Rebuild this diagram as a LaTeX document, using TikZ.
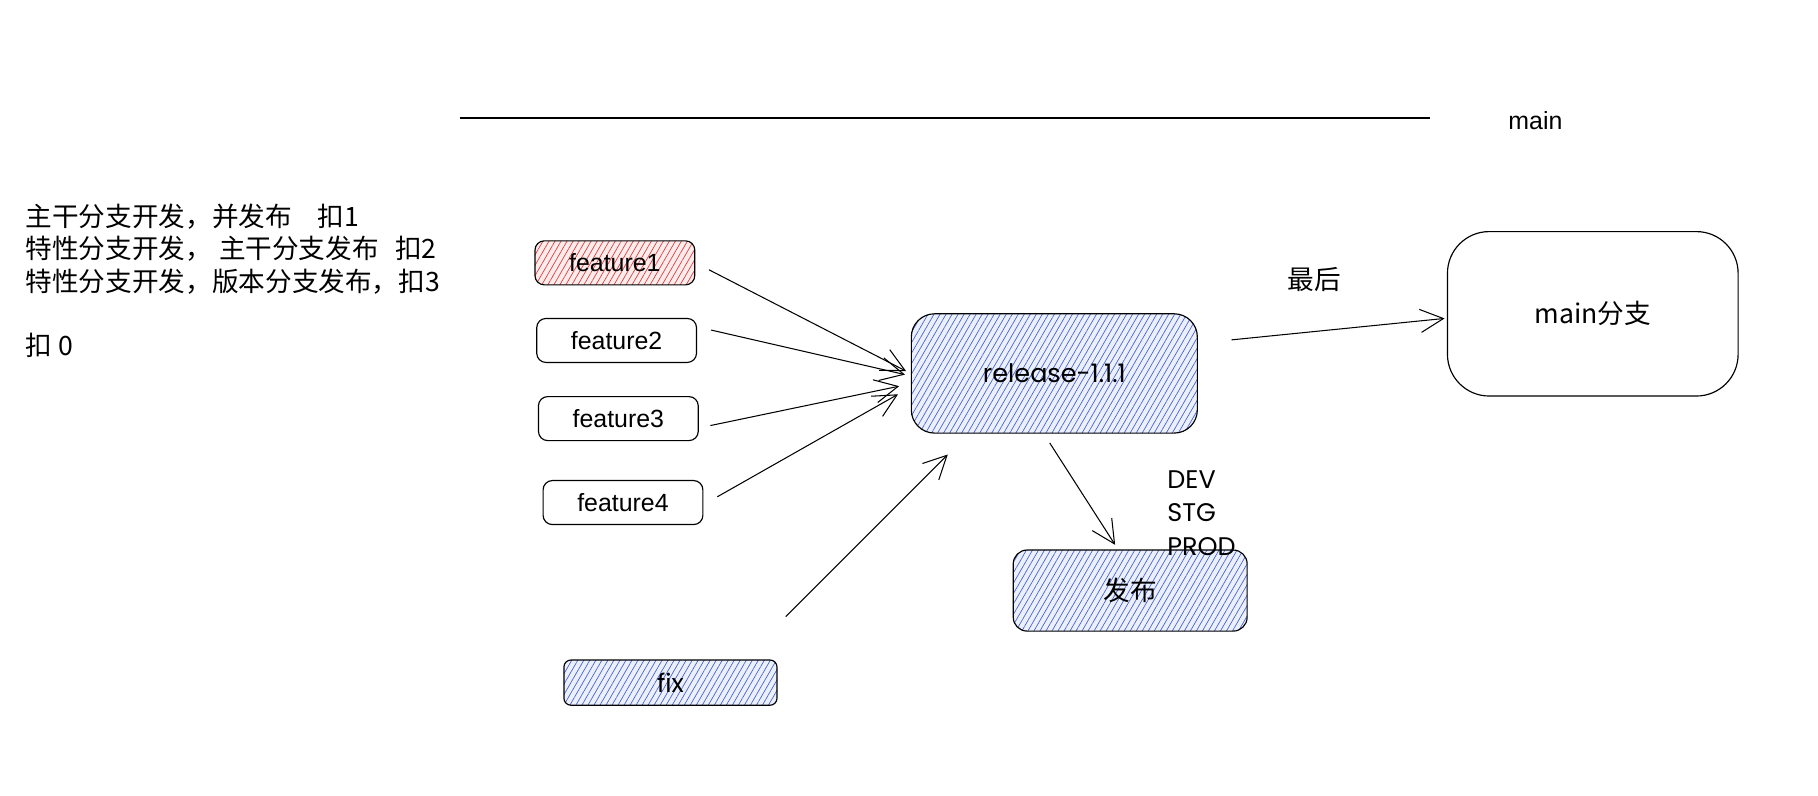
\documentclass[tikz,border=0pt]{standalone}
\usepackage{fontspec}
\setmainfont{Liberation Sans}
\newfontfamily\cjk{Noto Sans CJK SC}
\newfontfamily\hand{Poppins}
\usepackage{tikz}
\usetikzlibrary{arrows.meta, calc, patterns.meta}
\usepackage{xcolor}
\definecolor{hatchblue}{RGB}{70,100,205}
\definecolor{hatchred}{RGB}{224,60,60}
\definecolor{paleblue}{RGB}{236,240,252}
\definecolor{palered}{RGB}{253,236,236}

\begin{document}
\begin{tikzpicture}[x=1pt, y=-1pt,
        every node/.style={font=\fontsize{21.5}{28}\selectfont},
        zh/.style={font=\cjk\fontsize{23}{28}\selectfont},
        sketch/.style={draw, line width=1pt, rounded corners=8pt, inner sep=0pt},
        featbox/.style={sketch, minimum width=138pt, minimum height=38pt},
        bluehatch/.style={preaction={fill=paleblue}, pattern={Lines[angle=60, distance=4.5pt, line width=0.6pt]}, pattern color=hatchblue},
        redhatch/.style={preaction={fill=palered}, pattern={Lines[angle=60, distance=4.5pt, line width=0.6pt]}, pattern color=hatchred},
        handtext/.style={font=\hand\fontsize{22}{29}\selectfont},
        arr/.style={-{Straight Barb[length=20pt, width=20pt]}, line width=0.9pt}]

                \useasboundingbox (0,0) rectangle (1570,687.4);

                % main line
                \coordinate (lineL) at (397,102);
                \coordinate (lineR) at (1235,102);
                \draw[line width=1.5pt] (lineL) -- (lineR);
                \node (mainlabel) at (1326,104) {main};

                % notes
                \node[zh, anchor=north west, align=left, inner sep=0pt] (notes) at (22,176) {主干分支开发，并发布\hspace{22pt}扣1\\特性分支开发，\hspace{6pt}主干分支发布\hspace{14pt}扣2\\特性分支开发，版本分支发布，扣3\\[27pt]扣 0};

                % features
                \node[featbox, redhatch] (feature1) at (531,227) {feature1};
                \node[featbox] (feature2) at (532.5,294) {feature2};
                \node[featbox] (feature3) at (534,361.5) {feature3};
                \node[featbox] (feature4) at (538,434) {feature4};
                \node[sketch, bluehatch, rounded corners=6pt, minimum width=184pt, minimum height=39pt, handtext] (fix) at (579,589.5) {fix};

                % release
                \node[sketch, bluehatch, rounded corners=20pt, minimum width=247pt, minimum height=103pt, handtext] (release) at (910.5,322.5) {release-1.1.1};
                \node[zh, sketch, bluehatch, rounded corners=12pt, minimum width=202pt, minimum height=70pt] (publish) at (976,510) {发布};
                \node[handtext, anchor=north west, align=left, inner sep=0pt] (envs) at (1008,406) {DEV\\STG\\PROD};

                % main branch
                \node[zh, sketch, rounded corners=36pt, minimum width=251pt, minimum height=142pt] (mainbranch) at (1375.5,271) {main分支};
                \node[zh] (last) at (1135,241) {最后};

                % merges
                \draw[arr] ($ (feature1.east) + (12,6) $) -- ($ (release.west) + (-4,-2) $);
                \draw[arr] ($ (feature2.east) + (12,-9) $) -- ($ (release.west) + (-5,1) $);
                \draw[arr] ($ (feature3.east) + (10,6) $) -- ($ (release.west) + (-10,11) $);
                \draw[arr] ($ (feature4.east) + (12,-5) $) -- ($ (release.west) + (-11,18) $);
                \draw[arr] ($ (fix.north east) + (7,-37) $) -- ($ (release.south) + (-92,18) $);
                \draw[arr] ($ (release.south) + (-4,8) $) -- ($ (publish.north) + (-13,-4) $);
                \draw[arr] ($ (release.east) + (29,-29) $) -- ($ (mainbranch.west) + (-2,4) $);

            \end{tikzpicture}
\end{document}
